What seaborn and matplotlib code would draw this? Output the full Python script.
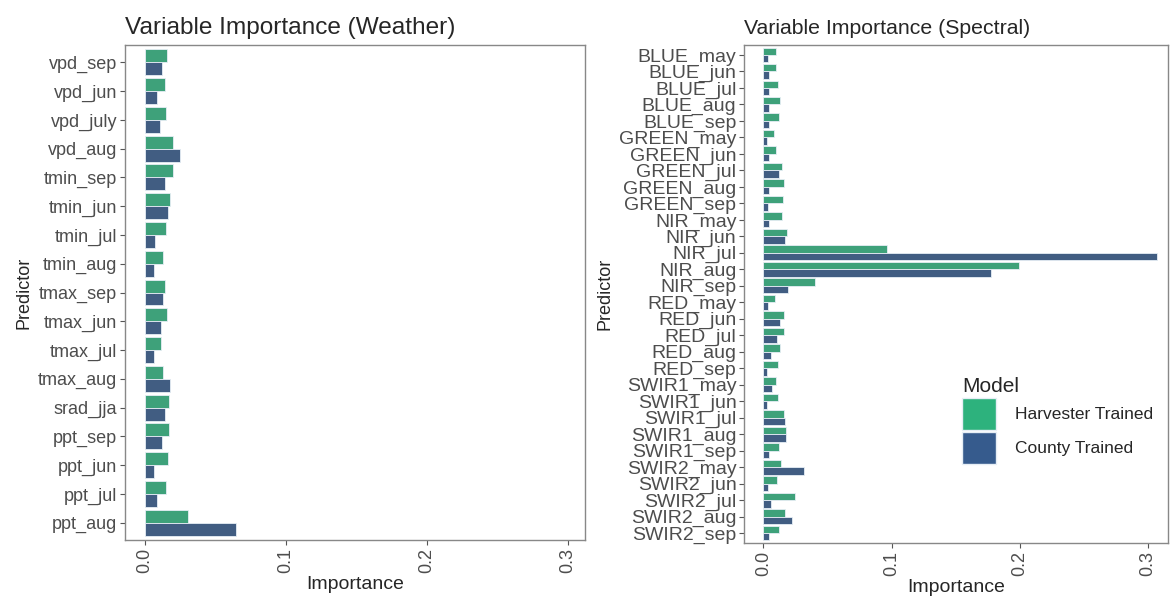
import pandas as pd
import matplotlib
matplotlib.use("Agg")
import matplotlib.pyplot as plt
import seaborn as sns
from matplotlib.patches import Patch

# --- data ---
weather_vars = ["vpd_sep", "vpd_jun", "vpd_july", "vpd_aug", "tmin_sep", "tmin_jun",
                "tmin_jul", "tmin_aug", "tmax_sep", "tmax_jun", "tmax_jul", "tmax_aug",
                "srad_jja", "ppt_sep", "ppt_jun", "ppt_jul", "ppt_aug"]
weather_harvester = [0.0158, 0.0142, 0.0149, 0.0200, 0.0200, 0.0175, 0.0151, 0.0130, 0.0144,
                     0.0156, 0.0113, 0.0130, 0.0168, 0.0172, 0.0163, 0.0151, 0.0307]
weather_county = [0.0120, 0.0083, 0.0104, 0.0250, 0.0140, 0.0160, 0.0073, 0.0066, 0.0125,
                  0.0116, 0.0066, 0.0177, 0.0142, 0.0120, 0.0066, 0.0085, 0.0648]

spectral_vars = ["BLUE_may", "BLUE_jun", "BLUE_jul", "BLUE_aug", "BLUE_sep",
                 "GREEN_may", "GREEN_jun", "GREEN_jul", "GREEN_aug", "GREEN_sep",
                 "NIR_may", "NIR_jun", "NIR_jul", "NIR_aug", "NIR_sep",
                 "RED_may", "RED_jun", "RED_jul", "RED_aug", "RED_sep",
                 "SWIR1_may", "SWIR1_jun", "SWIR1_jul", "SWIR1_aug", "SWIR1_sep",
                 "SWIR2_may", "SWIR2_jun", "SWIR2_jul", "SWIR2_aug", "SWIR2_sep"]
spectral_harvester = [0.0096, 0.0101, 0.0117, 0.0128, 0.0122,
                      0.0083, 0.0099, 0.0148, 0.0159, 0.0151,
                      0.0143, 0.0182, 0.0966, 0.1995, 0.0400,
                      0.0091, 0.0164, 0.0159, 0.0132, 0.0117,
                      0.0101, 0.0112, 0.0164, 0.0174, 0.0122,
                      0.0138, 0.0109, 0.0245, 0.0169, 0.0125]
spectral_county = [0.0037, 0.0047, 0.0044, 0.0042, 0.0047,
                   0.0031, 0.0047, 0.0122, 0.0044, 0.0037,
                   0.0047, 0.0171, 0.3070, 0.1775, 0.0190,
                   0.0034, 0.0130, 0.0107, 0.0062, 0.0031,
                   0.0070, 0.0031, 0.0166, 0.0177, 0.0044,
                   0.0320, 0.0040, 0.0062, 0.0224, 0.0044]

models = ["Harvester Trained", "County Trained"]
colors = {"Harvester Trained": "#2db27d", "County Trained": "#365b8d"}
x_ticks = [0.0, 0.1, 0.2, 0.3]


def to_long(names, harv, county):
    df = pd.DataFrame({"Predictor": names, models[0]: harv, models[1]: county})
    return df.melt(id_vars="Predictor", var_name="Model", value_name="Importance")


weather = to_long(weather_vars, weather_harvester, weather_county)
spectral = to_long(spectral_vars, spectral_harvester, spectral_county)

sns.set_style("white")
plt.rcParams["font.family"] = ["Liberation Sans", "DejaVu Sans"]

fig = plt.figure(figsize=(11.71, 5.97), dpi=100)
ax1 = fig.add_axes([0.1067, 0.0955, 0.3928, 0.829])
ax2 = fig.add_axes([0.6354, 0.0905, 0.362, 0.834])


def draw(ax, data, order, title, xlim, title_size, ytick_size):
    sns.barplot(data=data, y="Predictor", x="Importance", hue="Model",
                order=order, hue_order=models, palette=colors, orient="h",
                width=0.9, edgecolor="#e6eef5", linewidth=0.6, ax=ax, legend=False)
    n = len(order)
    ax.set_ylim(n - 1 + 0.6, -0.6)
    ax.set_xlim(*xlim)
    ax.set_xticks(x_ticks)
    ax.set_xticklabels([f"{t:.1f}" for t in x_ticks], rotation=90)
    ax.set_title(title, loc="left", fontsize=title_size, pad=8)
    ax.set_xlabel("Importance", fontsize=14, labelpad=2)
    ax.set_ylabel("Predictor", fontsize=13)
    ax.tick_params(axis="both", which="both", length=3.5, color="#555555",
                   labelcolor="#4d4d4d", direction="out", pad=2,
                   left=True, bottom=True, width=0.8)
    ax.tick_params(axis="x", labelsize=13)
    ax.tick_params(axis="y", labelsize=ytick_size)
    for s in ax.spines.values():
        s.set_color("#888888")
        s.set_linewidth(1.0)
    ax.grid(False)


draw(ax1, weather, weather_vars, "Variable Importance (Weather)", (-0.0142, 0.312), 17.6, 13)
draw(ax2, spectral, spectral_vars, "Variable Importance (Spectral)", (-0.015, 0.3154), 15.3, 14)

handles = [Patch(facecolor=colors[m], edgecolor="#e6eef5", label=m) for m in models]
leg = fig.legend(handles=handles, title="Model", loc="upper left",
                 bbox_to_anchor=(0.8085, 0.395), frameon=False, fontsize=12.5,
                 title_fontsize=15, handlelength=1.93, handleheight=2.4,
                 labelspacing=0.15, handletextpad=1.1)
leg._legend_box.align = "left"

fig.savefig("out.png", dpi=100)
